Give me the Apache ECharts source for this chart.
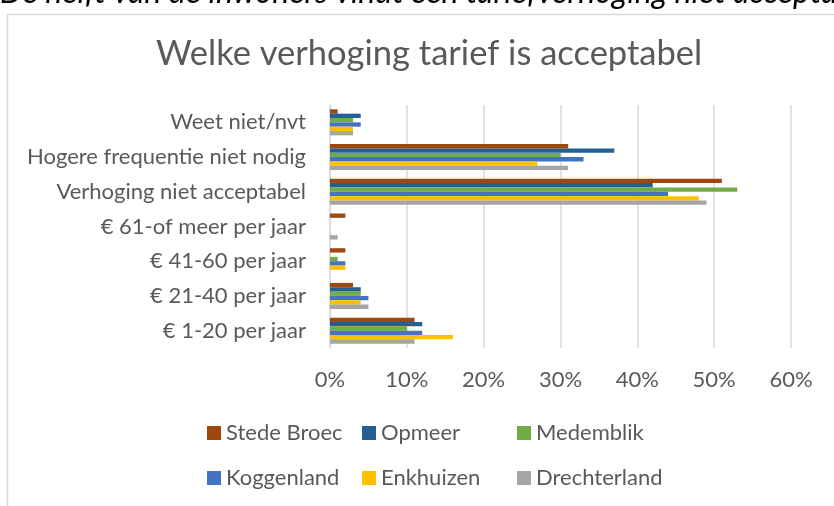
<!DOCTYPE html>
<html>
<head>
<meta charset="utf-8">
<script src="https://cdn.jsdelivr.net/npm/echarts@6/dist/echarts.min.js"></script>
<style>
    html, body {margin: 0; padding: 0; background: #fff;}
    #echarts {width: 834px; height: 506px;}
</style>
</head>
<body>
<div id="echarts"></div>
<script>
// categories top -> bottom
let categories = ['Weet niet/nvt', 'Hogere frequentie niet nodig', 'Verhoging niet acceptabel',
    '€ 61-of meer per jaar', '€ 41-60 per jaar', '€ 21-40 per jaar', '€ 1-20 per jaar'];
let stedeBroec = [1, 31, 51, 2, 2, 3, 11];
let opmeer = [4, 37, 42, 0, 0, 4, 12];
let medemblik = [3, 30, 53, 0, 1, 4, 10];
let koggenland = [4, 33, 44, 0, 2, 5, 12];
let enkhuizen = [3, 27, 48, 0, 2, 4, 16];
let drechterland = [3, 31, 49, 1, 0, 5, 11];
let names = ['Stede Broec', 'Opmeer', 'Medemblik', 'Koggenland', 'Enkhuizen', 'Drechterland'];
let colors = ['#9E480E', '#255E91', '#70AD47', '#4472C4', '#FFC000', '#A5A5A5'];
let xTicks = [0, 60, 10];   // min, max, interval (%)

let font = 'Lato';
let grey = '#595959';

let myChart = echarts.init(document.getElementById('echarts'));

let allData = [stedeBroec, opmeer, medemblik, koggenland, enkhuizen, drechterland];
let series = names.map((n, i) => ({
    name: n,
    type: 'bar',
    data: allData[i],
    barGap: '0%',
    barCategoryGap: '25%',
    itemStyle: {color: colors[i]}
}));

/*legend in 3 columns, 2 rows*/
let legendCol = (items, left) => ({
    orient: 'vertical',
    left: left,
    top: 417,
    itemWidth: 14,
    itemHeight: 14,
    itemGap: 23,
    icon: 'rect',
    textStyle: {color: grey, fontSize: 22, fontFamily: font, lineHeight: 22},
    data: items
});

let option = {
    animation: false,
    title: {
        text: 'Welke verhoging tarief is acceptabel',
        left: 151,
        top: 31,
        textStyle: {color: grey, fontSize: 34.5, fontWeight: 'normal', fontFamily: font}
    },
    graphic: [
        {
            type: 'text',
            left: 0,
            top: -23,
            style: {
                text: 'De helft van de inwoners vindt een tariefverhoging niet acceptabel',
                fill: '#000',
                font: 'italic 32px Lato'
            }
        },
        {
            type: 'polyline',
            shape: {points: [[7.5, 506], [7.5, 14.5], [834, 14.5]]},
            style: {stroke: '#d9d9d9', lineWidth: 1.5, fill: null}
        }
    ],
    legend: [
        legendCol([names[0], names[3]], 202),
        legendCol([names[1], names[4]], 357),
        legendCol([names[2], names[5]], 512)
    ],
    grid: {left: 330, right: 43, top: 105, height: 243},
    xAxis: {
        type: 'value',
        min: xTicks[0],
        max: xTicks[1],
        interval: xTicks[2],
        axisLine: {show: false},
        axisTick: {show: false},
        splitLine: {show: true, lineStyle: {color: '#d9d9d9', width: 1.5}},
        axisLabel: {
            margin: 21,
            color: grey,
            fontSize: 22,
            fontFamily: font,
            formatter: '{value}%'
        }
    },
    yAxis: {
        type: 'category',
        inverse: true,
        data: categories,
        axisLine: {show: true, lineStyle: {color: '#d9d9d9', width: 1.5}},
        axisTick: {show: false},
        axisLabel: {margin: 24, color: grey, fontSize: 22, fontFamily: font}
    },
    series: series
};
myChart.setOption(option);
</script>
</body>
</html>
